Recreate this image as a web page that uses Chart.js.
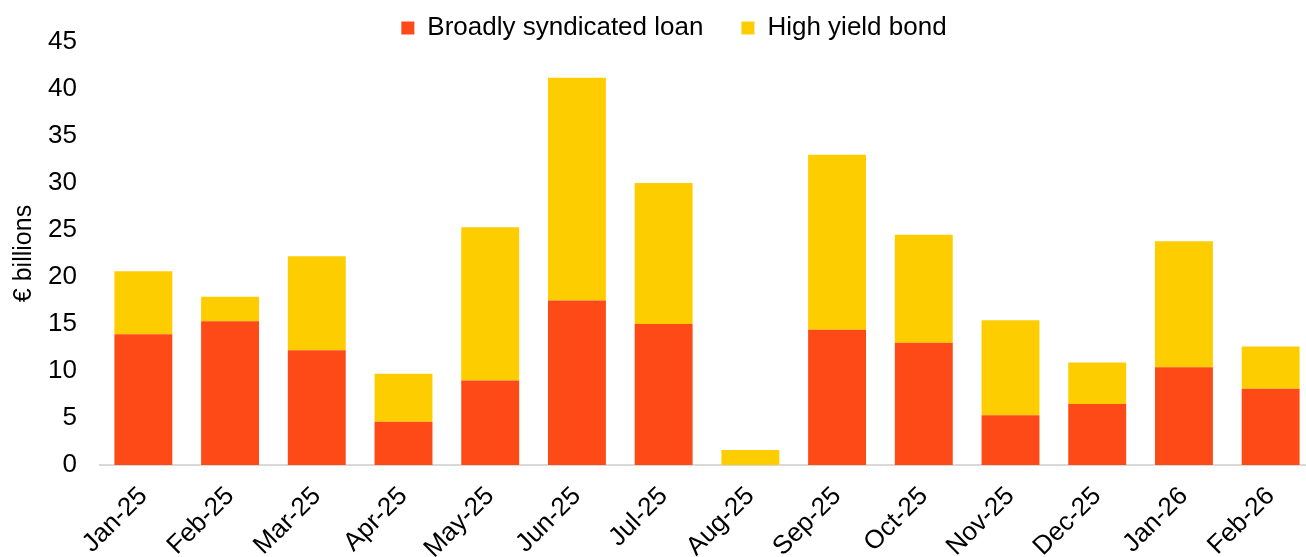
<!DOCTYPE html>
<html>
<head>
<meta charset="utf-8">
<script src="https://cdn.jsdelivr.net/npm/chart.js@4"></script>
<style>
  html, body { margin: 0; padding: 0; background: #fff; overflow: hidden; }
  #wrap { width: 1320px; height: 557px; }
</style>
</head>
<body>
<div id="wrap"><canvas id="issuanceChart" width="1320" height="557"></canvas></div>
<script>
const months = ["Jan-25", "Feb-25", "Mar-25", "Apr-25", "May-25", "Jun-25", "Jul-25",
  "Aug-25", "Sep-25", "Oct-25", "Nov-25", "Dec-25", "Jan-26", "Feb-26"];
const loanVolume = [13.9, 15.3, 12.2, 4.6, 9.0, 17.5, 15.0, 0, 14.4, 13.0, 5.3, 6.5, 10.4, 8.1];
const bondVolume = [6.7, 2.6, 10.0, 5.1, 16.3, 23.7, 15.0, 1.6, 18.6, 11.5, 10.1, 4.4, 13.4, 4.5];
const yTicks = [0, 5, 10, 15, 20, 25, 30, 35, 40, 45];

const FONT = "'Liberation Sans', Arial, sans-serif";
Chart.defaults.font.family = FONT;
Chart.defaults.color = "#000";

// legend sits in a fixed 42px strip; item spacing is wider than its vertical inset
const legendStrip = {
  id: "legendStrip",
  beforeInit(chart) {
    const fit = chart.legend.fit;
    chart.legend.fit = function () {
      fit.bind(chart.legend)();
      this.height = 42;
    };
  },
  afterLayout(chart) {
    const lg = chart.legend;
    lg.top = -23;
    lg.left += 17;
    lg.right += 17;
  }
};

const ctx = document.getElementById("issuanceChart").getContext("2d");

new Chart(ctx, {
  type: "bar",
  data: {
    labels: months,
    datasets: [
      { label: "Broadly syndicated loan", data: loanVolume, backgroundColor: "#FE4A16" },
      { label: "High yield bond", data: bondVolume, backgroundColor: "#FECD00" }
    ]
  },
  options: {
    responsive: false,
    animation: false,
    layout: { padding: { left: 0, right: 6, top: 0, bottom: 0 } },
    datasets: { bar: { categoryPercentage: 1, barPercentage: 0.668 } },
    scales: {
      x: {
        stacked: true,
        grid: { display: false, drawTicks: false },
        border: { display: true, color: "#d9d9d9", width: 2 },
        ticks: { font: { size: 26 }, minRotation: 45, maxRotation: 45, padding: 16 },
        afterFit(scale) { scale.height = 92; }
      },
      y: {
        stacked: true,
        min: 0,
        max: 45,
        afterBuildTicks(scale) { scale.ticks = yTicks.map(v => ({ value: v })); },
        grid: { display: false, drawTicks: false },
        border: { display: false },
        ticks: { font: { size: 26 }, padding: 23 },
        title: { display: true, text: "€ billions", font: { size: 25 }, padding: { top: 9, bottom: 0 } },
        afterFit(scale) { scale.width = 100; }
      }
    },
    plugins: {
      legend: {
        position: "top",
        labels: { font: { size: 26 }, boxWidth: 13, boxHeight: 13, padding: 38 }
      },
      tooltip: { enabled: false }
    }
  },
  plugins: [legendStrip]
});
</script>
</body>
</html>
